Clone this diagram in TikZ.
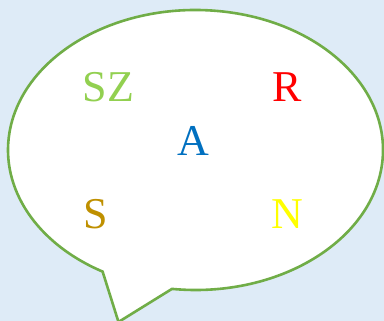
\documentclass[tikz,border=0pt]{standalone}
\usepackage{fontspec}
\setmainfont{Liberation Serif}
\definecolor{bgblue}{HTML}{DEEBF7}
\definecolor{bubgreen}{HTML}{70AD47}
\definecolor{szgreen}{HTML}{92D050}
\definecolor{ablue}{HTML}{0070C0}
\definecolor{sgold}{HTML}{BF9000}
\definecolor{nyellow}{HTML}{FFFF00}
\definecolor{rred}{HTML}{FF0000}
\tikzset{
  bubble/.style={draw=bubgreen, fill=white, line width=2.6pt, line join=miter},
  letter/.style={anchor=base, inner sep=0pt, font=\fontsize{44}{44}\selectfont}
}
\begin{document}
\begin{tikzpicture}[x=1pt,y=1pt]
\useasboundingbox (0,0) rectangle (384,321);
\fill[bgblue] (0,0) rectangle (384,321);
\coordinate (c) at (195.5,171);
\coordinate (tip) at (118.5,-1);
\begin{scope}
\clip (0,0) rectangle (384,321);
\draw[bubble] ([shift={(-97.2:187.5pt and 140pt)}]c) arc[start angle=-97.2, end angle=240.3, x radius=187.5pt, y radius=140pt] -- (tip) -- cycle;
\end{scope}
\node[letter, text=szgreen] (sz) at (108.5,219) {SZ};
\node[letter, text=rred] (r) at (287,219) {R};
\node[letter, text=ablue] (a) at (193,165) {A};
\node[letter, text=sgold] (s) at (95.5,92) {S};
\node[letter, text=nyellow] (n) at (287.5,92) {N};
\end{tikzpicture}
\end{document}
